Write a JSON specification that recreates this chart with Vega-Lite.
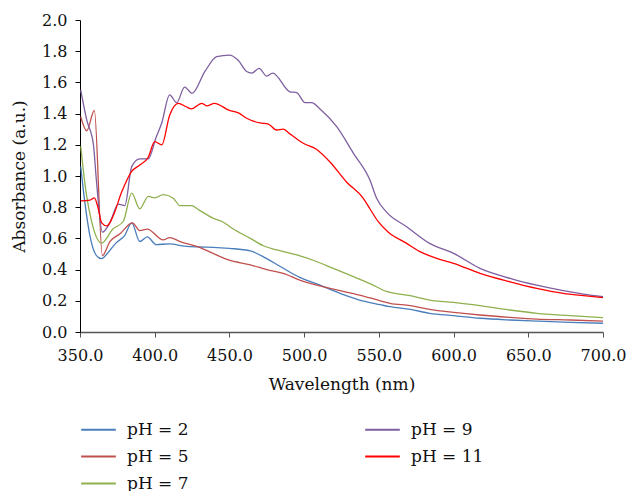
{
  "$schema": "https://vega.github.io/schema/vega-lite/v6.json",
  "width": 523,
  "height": 312,
  "autosize": {"type": "none"},
  "padding": {"left": 80, "top": 20, "right": 24, "bottom": 159},
  "background": "white",
  "config": {
    "view": {"stroke": null},
    "font": "DejaVu Serif",
    "axis": {"grid": false, "labelFont": "DejaVu Serif", "titleFont": "DejaVu Serif", "labelColor": "#111", "titleColor": "#111", "titleFontWeight": "normal"},
    "legend": {"labelFont": "DejaVu Serif"}
  },
  "data": {
    "values": [
      {"s": "pH = 2", "w": 350.5, "a": 1.06},
      {"s": "pH = 2", "w": 353, "a": 0.85},
      {"s": "pH = 2", "w": 357, "a": 0.6},
      {"s": "pH = 2", "w": 361, "a": 0.49},
      {"s": "pH = 2", "w": 364.5, "a": 0.47},
      {"s": "pH = 2", "w": 368, "a": 0.5},
      {"s": "pH = 2", "w": 374, "a": 0.57},
      {"s": "pH = 2", "w": 380, "a": 0.62},
      {"s": "pH = 2", "w": 384.6, "a": 0.7},
      {"s": "pH = 2", "w": 390, "a": 0.58},
      {"s": "pH = 2", "w": 395, "a": 0.61},
      {"s": "pH = 2", "w": 401, "a": 0.56},
      {"s": "pH = 2", "w": 410, "a": 0.565},
      {"s": "pH = 2", "w": 420, "a": 0.55},
      {"s": "pH = 2", "w": 430, "a": 0.545},
      {"s": "pH = 2", "w": 439, "a": 0.543},
      {"s": "pH = 2", "w": 450, "a": 0.536},
      {"s": "pH = 2", "w": 464, "a": 0.52},
      {"s": "pH = 2", "w": 475, "a": 0.47},
      {"s": "pH = 2", "w": 484, "a": 0.42},
      {"s": "pH = 2", "w": 497, "a": 0.35},
      {"s": "pH = 2", "w": 510.6, "a": 0.3},
      {"s": "pH = 2", "w": 524, "a": 0.248},
      {"s": "pH = 2", "w": 537, "a": 0.205},
      {"s": "pH = 2", "w": 551, "a": 0.175},
      {"s": "pH = 2", "w": 557.5, "a": 0.162},
      {"s": "pH = 2", "w": 571, "a": 0.145},
      {"s": "pH = 2", "w": 584, "a": 0.12},
      {"s": "pH = 2", "w": 600, "a": 0.105},
      {"s": "pH = 2", "w": 617.7, "a": 0.088},
      {"s": "pH = 2", "w": 637.8, "a": 0.077},
      {"s": "pH = 2", "w": 655.6, "a": 0.07},
      {"s": "pH = 2", "w": 678, "a": 0.062},
      {"s": "pH = 2", "w": 700, "a": 0.056},

      {"s": "pH = 5", "w": 350.5, "a": 1.38},
      {"s": "pH = 5", "w": 354.5, "a": 1.29},
      {"s": "pH = 5", "w": 359.6, "a": 1.42},
      {"s": "pH = 5", "w": 365, "a": 0.49},
      {"s": "pH = 5", "w": 370, "a": 0.58},
      {"s": "pH = 5", "w": 376.8, "a": 0.63},
      {"s": "pH = 5", "w": 385, "a": 0.7},
      {"s": "pH = 5", "w": 390, "a": 0.65},
      {"s": "pH = 5", "w": 395, "a": 0.66},
      {"s": "pH = 5", "w": 405.7, "a": 0.59},
      {"s": "pH = 5", "w": 410, "a": 0.605},
      {"s": "pH = 5", "w": 417, "a": 0.58},
      {"s": "pH = 5", "w": 430, "a": 0.543},
      {"s": "pH = 5", "w": 439, "a": 0.504},
      {"s": "pH = 5", "w": 450, "a": 0.46},
      {"s": "pH = 5", "w": 464, "a": 0.43},
      {"s": "pH = 5", "w": 475, "a": 0.4},
      {"s": "pH = 5", "w": 486, "a": 0.376},
      {"s": "pH = 5", "w": 497, "a": 0.333},
      {"s": "pH = 5", "w": 510.6, "a": 0.295},
      {"s": "pH = 5", "w": 524, "a": 0.265},
      {"s": "pH = 5", "w": 537, "a": 0.237},
      {"s": "pH = 5", "w": 551, "a": 0.2},
      {"s": "pH = 5", "w": 557.5, "a": 0.184},
      {"s": "pH = 5", "w": 571, "a": 0.169},
      {"s": "pH = 5", "w": 584, "a": 0.145},
      {"s": "pH = 5", "w": 600, "a": 0.126},
      {"s": "pH = 5", "w": 617.7, "a": 0.109},
      {"s": "pH = 5", "w": 637.8, "a": 0.094},
      {"s": "pH = 5", "w": 655.6, "a": 0.083},
      {"s": "pH = 5", "w": 678, "a": 0.077},
      {"s": "pH = 5", "w": 700, "a": 0.07},

      {"s": "pH = 7", "w": 350.5, "a": 1.19},
      {"s": "pH = 7", "w": 354, "a": 0.9},
      {"s": "pH = 7", "w": 358, "a": 0.7},
      {"s": "pH = 7", "w": 364.5, "a": 0.57},
      {"s": "pH = 7", "w": 372, "a": 0.66},
      {"s": "pH = 7", "w": 379, "a": 0.71},
      {"s": "pH = 7", "w": 384.6, "a": 0.89},
      {"s": "pH = 7", "w": 390, "a": 0.79},
      {"s": "pH = 7", "w": 395.7, "a": 0.87},
      {"s": "pH = 7", "w": 400, "a": 0.86},
      {"s": "pH = 7", "w": 405.7, "a": 0.88},
      {"s": "pH = 7", "w": 412.4, "a": 0.857},
      {"s": "pH = 7", "w": 417, "a": 0.81},
      {"s": "pH = 7", "w": 424.7, "a": 0.81},
      {"s": "pH = 7", "w": 430, "a": 0.78},
      {"s": "pH = 7", "w": 439, "a": 0.73},
      {"s": "pH = 7", "w": 444.8, "a": 0.71},
      {"s": "pH = 7", "w": 452.6, "a": 0.66},
      {"s": "pH = 7", "w": 464, "a": 0.6},
      {"s": "pH = 7", "w": 472.7, "a": 0.553},
      {"s": "pH = 7", "w": 481.6, "a": 0.526},
      {"s": "pH = 7", "w": 495, "a": 0.494},
      {"s": "pH = 7", "w": 506, "a": 0.46},
      {"s": "pH = 7", "w": 519.5, "a": 0.408},
      {"s": "pH = 7", "w": 533, "a": 0.355},
      {"s": "pH = 7", "w": 544, "a": 0.31},
      {"s": "pH = 7", "w": 555, "a": 0.26},
      {"s": "pH = 7", "w": 571, "a": 0.233},
      {"s": "pH = 7", "w": 584, "a": 0.205},
      {"s": "pH = 7", "w": 600, "a": 0.19},
      {"s": "pH = 7", "w": 617.7, "a": 0.169},
      {"s": "pH = 7", "w": 637.8, "a": 0.141},
      {"s": "pH = 7", "w": 655.6, "a": 0.12},
      {"s": "pH = 7", "w": 678, "a": 0.105},
      {"s": "pH = 7", "w": 700, "a": 0.092},

      {"s": "pH = 9", "w": 350.5, "a": 1.55},
      {"s": "pH = 9", "w": 354.5, "a": 1.36},
      {"s": "pH = 9", "w": 359, "a": 1.2},
      {"s": "pH = 9", "w": 361, "a": 0.97},
      {"s": "pH = 9", "w": 365, "a": 0.64},
      {"s": "pH = 9", "w": 370, "a": 0.7},
      {"s": "pH = 9", "w": 375.6, "a": 0.82},
      {"s": "pH = 9", "w": 380, "a": 0.81},
      {"s": "pH = 9", "w": 384.6, "a": 1.06},
      {"s": "pH = 9", "w": 390, "a": 1.11},
      {"s": "pH = 9", "w": 395.7, "a": 1.11},
      {"s": "pH = 9", "w": 401, "a": 1.25},
      {"s": "pH = 9", "w": 404.7, "a": 1.34},
      {"s": "pH = 9", "w": 410, "a": 1.52},
      {"s": "pH = 9", "w": 414.7, "a": 1.47},
      {"s": "pH = 9", "w": 420, "a": 1.57},
      {"s": "pH = 9", "w": 425, "a": 1.53},
      {"s": "pH = 9", "w": 433.6, "a": 1.67},
      {"s": "pH = 9", "w": 441.5, "a": 1.765},
      {"s": "pH = 9", "w": 450, "a": 1.775},
      {"s": "pH = 9", "w": 456, "a": 1.74},
      {"s": "pH = 9", "w": 461.5, "a": 1.67},
      {"s": "pH = 9", "w": 465, "a": 1.66},
      {"s": "pH = 9", "w": 469.8, "a": 1.69},
      {"s": "pH = 9", "w": 475, "a": 1.64},
      {"s": "pH = 9", "w": 479, "a": 1.66},
      {"s": "pH = 9", "w": 490.5, "a": 1.54},
      {"s": "pH = 9", "w": 495, "a": 1.535},
      {"s": "pH = 9", "w": 500.6, "a": 1.47},
      {"s": "pH = 9", "w": 505, "a": 1.47},
      {"s": "pH = 9", "w": 510.6, "a": 1.43},
      {"s": "pH = 9", "w": 521.8, "a": 1.316},
      {"s": "pH = 9", "w": 533, "a": 1.145},
      {"s": "pH = 9", "w": 544, "a": 0.974},
      {"s": "pH = 9", "w": 548.5, "a": 0.857},
      {"s": "pH = 9", "w": 555, "a": 0.77},
      {"s": "pH = 9", "w": 568.6, "a": 0.675},
      {"s": "pH = 9", "w": 584, "a": 0.568},
      {"s": "pH = 9", "w": 600, "a": 0.504},
      {"s": "pH = 9", "w": 617.7, "a": 0.408},
      {"s": "pH = 9", "w": 637.8, "a": 0.344},
      {"s": "pH = 9", "w": 655.6, "a": 0.3},
      {"s": "pH = 9", "w": 673.4, "a": 0.265},
      {"s": "pH = 9", "w": 687, "a": 0.243},
      {"s": "pH = 9", "w": 700, "a": 0.226},

      {"s": "pH = 11", "w": 350.5, "a": 0.84},
      {"s": "pH = 11", "w": 356.7, "a": 0.846},
      {"s": "pH = 11", "w": 359.6, "a": 0.86},
      {"s": "pH = 11", "w": 362, "a": 0.8},
      {"s": "pH = 11", "w": 364.5, "a": 0.7},
      {"s": "pH = 11", "w": 368, "a": 0.68},
      {"s": "pH = 11", "w": 372, "a": 0.74},
      {"s": "pH = 11", "w": 378, "a": 0.9},
      {"s": "pH = 11", "w": 384.6, "a": 1.03},
      {"s": "pH = 11", "w": 390, "a": 1.07},
      {"s": "pH = 11", "w": 395.7, "a": 1.12},
      {"s": "pH = 11", "w": 400, "a": 1.22},
      {"s": "pH = 11", "w": 404.7, "a": 1.2},
      {"s": "pH = 11", "w": 410, "a": 1.39},
      {"s": "pH = 11", "w": 415.8, "a": 1.466},
      {"s": "pH = 11", "w": 421, "a": 1.444},
      {"s": "pH = 11", "w": 424.7, "a": 1.43},
      {"s": "pH = 11", "w": 431.4, "a": 1.466},
      {"s": "pH = 11", "w": 434.8, "a": 1.45},
      {"s": "pH = 11", "w": 440, "a": 1.466},
      {"s": "pH = 11", "w": 450, "a": 1.42},
      {"s": "pH = 11", "w": 456, "a": 1.405},
      {"s": "pH = 11", "w": 461.5, "a": 1.37},
      {"s": "pH = 11", "w": 470.5, "a": 1.34},
      {"s": "pH = 11", "w": 476, "a": 1.333},
      {"s": "pH = 11", "w": 481.6, "a": 1.295},
      {"s": "pH = 11", "w": 486, "a": 1.3},
      {"s": "pH = 11", "w": 490.5, "a": 1.27},
      {"s": "pH = 11", "w": 499.4, "a": 1.21},
      {"s": "pH = 11", "w": 508.4, "a": 1.17},
      {"s": "pH = 11", "w": 517.3, "a": 1.09},
      {"s": "pH = 11", "w": 528.5, "a": 0.96},
      {"s": "pH = 11", "w": 539.6, "a": 0.857},
      {"s": "pH = 11", "w": 544, "a": 0.79},
      {"s": "pH = 11", "w": 549.6, "a": 0.707},
      {"s": "pH = 11", "w": 556, "a": 0.643},
      {"s": "pH = 11", "w": 568.6, "a": 0.568},
      {"s": "pH = 11", "w": 577.5, "a": 0.515},
      {"s": "pH = 11", "w": 588.7, "a": 0.472},
      {"s": "pH = 11", "w": 600, "a": 0.44},
      {"s": "pH = 11", "w": 617.7, "a": 0.376},
      {"s": "pH = 11", "w": 637.8, "a": 0.322},
      {"s": "pH = 11", "w": 655.6, "a": 0.28},
      {"s": "pH = 11", "w": 673.4, "a": 0.248},
      {"s": "pH = 11", "w": 687, "a": 0.233},
      {"s": "pH = 11", "w": 700, "a": 0.22}
    ]
  },
  "mark": {"type": "line", "interpolate": "monotone", "strokeWidth": 1.3},
  "encoding": {
    "x": {
      "field": "w", "type": "quantitative",
      "scale": {"domain": [350, 700], "nice": false, "zero": false},
      "axis": {"values": [350, 400, 450, 500, 550, 600, 650, 700], "format": ".1f", "title": "Wavelength (nm)",
        "labelFontSize": 16, "titleFontSize": 17, "tickSize": 5, "labelPadding": 10, "titlePadding": 13,
        "domainColor": "#555", "tickColor": "#555", "domainWidth": 1.5, "labelFlush": false}
    },
    "y": {
      "field": "a", "type": "quantitative",
      "scale": {"domain": [0, 2], "nice": false},
      "axis": {"values": [0, 0.2, 0.4, 0.6, 0.8, 1.0, 1.2, 1.4, 1.6, 1.8, 2.0], "format": ".1f", "title": "Absorbance (a.u.)",
        "labelFontSize": 16, "titleFontSize": 17, "tickSize": 5, "labelPadding": 8, "titlePadding": 13,
        "domainColor": "#000", "tickColor": "#000", "labelFlush": false}
    },
    "color": {
      "field": "s", "type": "nominal",
      "scale": {
        "domain": ["pH = 2", "pH = 9", "pH = 5", "pH = 11", "pH = 7"],
        "range": ["#4A7EBB", "#7E5FA0", "#C0504D", "#FF0000", "#8FB04E"]
      },
      "legend": {
        "title": null, "orient": "none", "legendX": 0, "legendY": 391, "direction": "horizontal",
        "columns": 2, "columnPadding": 172, "rowPadding": -9,
        "symbolType": "stroke", "symbolSize": 1200, "symbolStrokeWidth": 2,
        "labelFontSize": 17, "labelFont": "DejaVu Serif", "labelColor": "#111", "labelOffset": 10
      }
    }
  }
}
